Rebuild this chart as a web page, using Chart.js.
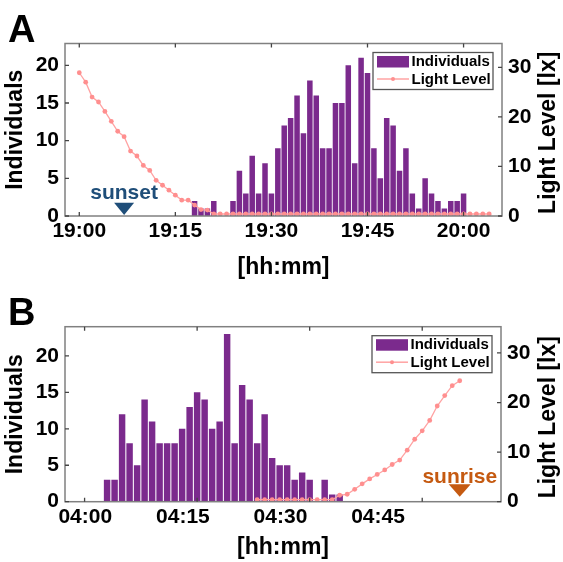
<!DOCTYPE html>
<html lang="en">
<head>
<meta charset="UTF-8">
<title>Individuals and light level around sunset and sunrise</title>
<script src="https://cdn.jsdelivr.net/npm/chart.js"></script>
<style>
  html, body { margin: 0; padding: 0; background: #fff; }
  #wrap { position: relative; width: 563px; height: 562px; overflow: hidden; }
  canvas { position: absolute; left: 0; display: block; }
  .panel { position: absolute; left: 8px; font: bold 38px "Liberation Sans", Arial, sans-serif; line-height: 1; color: #000; }
</style>
</head>
<body>
<div id="wrap">
  <canvas id="chartA" width="563" height="283" style="top:0"></canvas>
  <canvas id="chartB" width="563" height="279" style="top:283px"></canvas>
  <div class="panel" style="top:10px">A</div>
  <div class="panel" style="top:293px">B</div>
</div>
<script>
// ---- data (one value per minute) ----
// A: evening
const baseA = "19:00";
const countStartA = "19:18";
const individualsA = [2, 1, 1, 2, 0, 0, 2, 6, 3, 8, 3, 7, 3, 9, 12, 13, 16, 11, 18, 16, 9, 9,
  15, 15, 20, 7, 21, 19, 9, 5, 13, 12, 6, 9, 3, 1, 5, 3, 2, 1, 2, 2, 3];
const lightStartA = "19:00";
const lightA = [28.9, 27.0, 24.0, 23.0, 21.1, 19.1, 17.1, 16.0, 13.1, 12.1, 10.2, 9.2, 7.2, 6.2,
  5.2, 4.2, 3.2, 3.2, 2.2, 1.3, 1.2, 0.4, 0.4, 0.4, 0.4, 0.4, 0.4, 0.4, 0.4, 0.4, 0.4, 0.4,
  0.4, 0.4, 0.4, 0.4, 0.4, 0.4, 0.4, 0.4, 0.4, 0.4, 0.4, 0.4, 0.4, 0.4, 0.4, 0.4, 0.4, 0.4,
  0.4, 0.4, 0.4, 0.4, 0.4, 0.4, 0.4, 0.4, 0.4, 0.4, 0.4, 0.4, 0.4, 0.4, 0.4];
const timeTicksA = ["19:00", "19:15", "19:30", "19:45", "20:00"];
const sunsetA = "19:07";

// B: morning
const baseB = "04:00";
const countStartB = "04:03";
const individualsB = [3, 3, 12, 8, 5, 14, 11, 8, 8, 8, 10, 13, 15, 14, 10, 11, 23, 8, 16, 14,
  8, 12, 6, 5, 5, 3, 4, 3, 0, 3, 1, 1];
const lightStartB = "04:23";
const lightB = [0.4, 0.4, 0.4, 0.4, 0.4, 0.4, 0.4, 0.4, 0.4, 0.4, 0.4, 1.3, 1.5, 2.5, 3.6, 4.6,
  5.5, 6.4, 7.5, 8.4, 10.4, 12.6, 14.3, 16.4, 19.3, 21.4, 23.4, 24.4];
const timeTicksB = ["04:00", "04:15", "04:30", "04:45"];
const sunriseB = "04:50";

const countTicks = [0, 5, 10, 15, 20];
const luxTicks = [0, 10, 20, 30];

// ---- helpers ----
const FONT = '"Liberation Sans", Arial, Helvetica, sans-serif';
Chart.defaults.font.family = FONT;
Chart.defaults.color = "#000";

function toMin(t, base) {
  const [h, m] = t.split(":").map(Number);
  const [bh, bm] = base.split(":").map(Number);
  return (h - bh) * 60 + (m - bm);
}
function series(start, base, values) {
  const s = toMin(start, base);
  return values.map((v, i) => ({ x: s + i, y: v }));
}

const BAR = "#7b2a8d";
const LINE = "#ffa3a3";
const DOT = "#ff8f8f";
const TICK_FONT = { size: 21, weight: "bold", lineHeight: 1.2 };

// frame, inward ticks, legend, sun marker, right axis title
const decor = {
  id: "decor",
  afterDatasetsDraw(chart, args, o) {
    const { ctx, chartArea: a, scales } = chart;
    const xs = scales[o.xAxis];
    ctx.save();

    ctx.strokeStyle = "#808080";
    ctx.lineWidth = 1.5;
    ctx.strokeRect(a.left, a.top, a.width, a.height);

    ctx.strokeStyle = "#444";
    ctx.lineWidth = 1.3;
    ctx.beginPath();
    o.xTicks.forEach(v => {
      const px = xs.getPixelForValue(v);
      ctx.moveTo(px, a.top); ctx.lineTo(px, a.top + 4);
      ctx.moveTo(px, a.bottom); ctx.lineTo(px, a.bottom - 4);
    });
    countTicks.forEach(v => {
      const py = scales.y.getPixelForValue(v);
      ctx.moveTo(a.left, py); ctx.lineTo(a.left + 4, py);
    });
    luxTicks.forEach(v => {
      const py = scales.y1.getPixelForValue(v);
      ctx.moveTo(a.right, py); ctx.lineTo(a.right - 4, py);
    });
    ctx.stroke();

    // sunset / sunrise marker
    const m = o.marker;
    const mx = xs.getPixelForValue(m.value);
    ctx.fillStyle = m.color;
    ctx.font = "bold 21px " + FONT;
    ctx.textAlign = "center";
    ctx.textBaseline = "alphabetic";
    ctx.fillText(m.text, mx, a.bottom - m.textGap);
    ctx.beginPath();
    ctx.moveTo(mx - m.half, a.bottom - m.triTop);
    ctx.lineTo(mx + m.half, a.bottom - m.triTop);
    ctx.lineTo(mx, a.bottom - m.triTip);
    ctx.closePath();
    ctx.fill();

    // legend
    const bw = 120, bh = 37;
    const bx = a.right - 9 - bw, by = a.top + 9;
    ctx.fillStyle = "#fff";
    ctx.fillRect(bx, by, bw, bh);
    ctx.strokeStyle = "#555";
    ctx.lineWidth = 1.3;
    ctx.strokeRect(bx, by, bw, bh);
    const ds = chart.data.datasets;
    const bars = ds.find(d => d.type === "bar");
    const line = ds.find(d => d.type === "line");
    ctx.fillStyle = BAR;
    ctx.fillRect(bx + 4, by + 3.5, 32, 11.5);
    ctx.strokeStyle = LINE;
    ctx.lineWidth = 1.5;
    ctx.beginPath();
    ctx.moveTo(bx + 4, by + 26.5); ctx.lineTo(bx + 36, by + 26.5);
    ctx.stroke();
    ctx.fillStyle = DOT;
    ctx.beginPath();
    ctx.arc(bx + 20, by + 26.5, 2, 0, Math.PI * 2);
    ctx.fill();
    ctx.fillStyle = "#000";
    ctx.font = "bold 15px " + FONT;
    ctx.textAlign = "left";
    ctx.textBaseline = "middle";
    ctx.fillText(bars.label, bx + 38.5, by + 9.5);
    ctx.fillText(line.label, bx + 38.5, by + 27);

    // right axis title, reading upwards
    ctx.translate(chart.width - 14, (a.top + a.bottom) / 2 + 3);
    ctx.rotate(-Math.PI / 2);
    ctx.font = "bold 23px " + FONT;
    ctx.textAlign = "center";
    ctx.fillText("Light Level [lx]", 0, 0);
    ctx.restore();
  }
};

function yScales(countMax, luxMax) {
  return {
    y: {
      position: "left", min: 0, max: countMax,
      grid: { display: false, drawTicks: false }, border: { display: false },
      afterBuildTicks: s => { s.ticks = countTicks.map(v => ({ value: v })); },
      afterFit: s => { s.width = 65; },
      ticks: { font: TICK_FONT, padding: 6 },
      title: { display: true, text: "Individuals", font: { size: 23, weight: "bold", lineHeight: 1 }, padding: { top: 4.5, bottom: 0 } }
    },
    y1: {
      position: "right", min: 0, max: luxMax,
      grid: { display: false, drawTicks: false }, border: { display: false },
      afterBuildTicks: s => { s.ticks = luxTicks.map(v => ({ value: v })); },
      ticks: { font: TICK_FONT, padding: 6 }
    }
  };
}

function datasets(countStart, counts, lightStart, light, base) {
  return [
    {
      type: "bar", label: "Individuals", order: 2,
      data: series(countStart, base, counts),
      backgroundColor: BAR, borderWidth: 0,
      barPercentage: 0.86, categoryPercentage: 1,
      xAxisID: "x", yAxisID: "y"
    },
    {
      type: "line", label: "Light Level", order: 1,
      data: series(lightStart, base, light),
      borderColor: LINE, borderWidth: 1.3,
      pointRadius: 2.4, pointBackgroundColor: DOT, pointBorderWidth: 0,
      tension: 0, xAxisID: "x", yAxisID: "y1"
    }
  ];
}

// ---- panel A ----
const scalesA = yScales(22.9, 34.8);
scalesA.y1.afterFit = s => { s.width = 61; };
scalesA.x = {
  type: "linear", position: "bottom", min: -2.23, max: 66.0, offset: false,
  grid: { display: false, drawTicks: false }, border: { display: false },
  afterBuildTicks: s => { s.ticks = timeTicksA.map(t => ({ value: toMin(t, baseA) })); },
  afterFit: s => { s.height = 67; },
  ticks: { autoSkip: false, maxRotation: 0, font: TICK_FONT, padding: 3,
    callback: (v, i) => timeTicksA[i] },
  title: { display: true, text: "[hh:mm]", font: { size: 23, weight: "bold", lineHeight: 1 }, padding: { top: 0, bottom: 3.5 } }
};

new Chart(document.getElementById("chartA"), {
  type: "bar",
  data: { datasets: datasets(countStartA, individualsA, lightStartA, lightA, baseA) },
  options: {
    responsive: false, animation: false, events: [],
    layout: { padding: { top: 43.5, left: 0, right: 0, bottom: 0 } },
    scales: scalesA,
    plugins: {
      legend: { display: false }, tooltip: { enabled: false },
      decor: {
        xAxis: "x",
        xTicks: timeTicksA.map(t => toMin(t, baseA)),
        marker: { value: toMin(sunsetA, baseA), text: "sunset", color: "#1f4e79", textGap: 17, triTop: 13.3, triTip: 1, half: 10 }
      }
    }
  },
  plugins: [decor]
});

// ---- panel B ----
// data axis "x" carries bars, line and tick marks; axis "xl" carries the printed time labels
const scalesB = yScales(24, 35.3);
scalesB.y1.afterFit = s => { s.width = 62; };
scalesB.x = {
  type: "linear", position: "bottom", display: false, min: -2.61, max: 55.5, offset: false
};
scalesB.xl = {
  type: "linear", position: "bottom", min: -3.12, max: 63.9, offset: false,
  grid: { display: false, drawTicks: false }, border: { display: false },
  afterBuildTicks: s => { s.ticks = timeTicksB.map(t => ({ value: toMin(t, baseB) })); },
  afterFit: s => { s.height = 60.3; },
  ticks: { autoSkip: false, maxRotation: 0, font: TICK_FONT, padding: 3,
    callback: (v, i) => timeTicksB[i] },
  title: { display: true, text: "[hh:mm]", font: { size: 23, weight: "bold", lineHeight: 1 }, padding: { top: 0, bottom: 2.5 } }
};

new Chart(document.getElementById("chartB"), {
  type: "bar",
  data: { datasets: datasets(countStartB, individualsB, lightStartB, lightB, baseB) },
  options: {
    responsive: false, animation: false, events: [],
    layout: { padding: { top: 43.7, left: 0, right: 0, bottom: 0 } },
    scales: scalesB,
    plugins: {
      legend: { display: false }, tooltip: { enabled: false },
      decor: {
        xAxis: "x",
        xTicks: timeTicksB.map(t => toMin(t, baseB)),
        marker: { value: toMin(sunriseB, baseB), text: "sunrise", color: "#c55a11", textGap: 19, triTop: 17.5, triTip: 5, half: 11 }
      }
    }
  },
  plugins: [decor]
});
</script>
</body>
</html>
